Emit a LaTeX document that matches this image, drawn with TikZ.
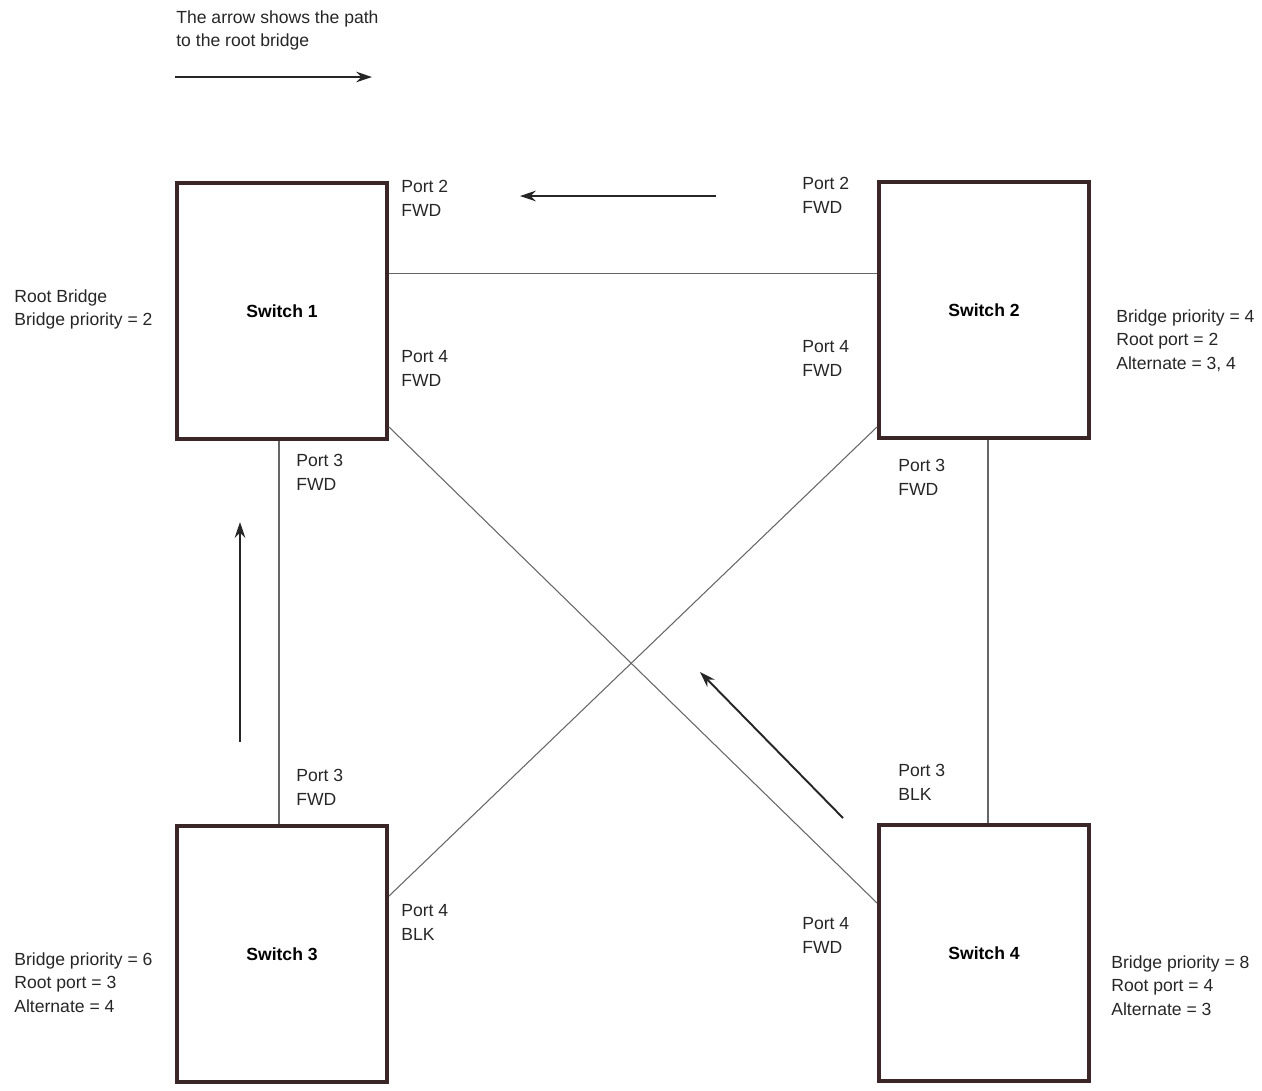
\documentclass[tikz,border=0pt]{standalone}
\usepackage{fontspec}
\setmainfont{Liberation Sans}
\usetikzlibrary{positioning}
\usetikzlibrary{arrows.meta}
\definecolor{boxbrown}{HTML}{3A2626}
\begin{document}
\begin{tikzpicture}[x=0.02cm, y=-0.02cm,
    switch/.style={draw=boxbrown, line width=2.2pt, minimum width=4.2cm, minimum height=5.12cm, font=\bfseries\fontsize{10}{12}\selectfont},
    note/.style={anchor=north west, inner sep=0pt, align=left, font=\fontsize{10}{13.6}\selectfont, text=black!85},
    link/.style={gray!80!black, line width=0.6pt},
    path/.style={-{Stealth[length=9pt, width=6pt]}, line width=1.1pt, black!85}]
  \useasboundingbox (0,0) rectangle (1262,1090);

  % Legend
  \node[note] (legend) at (176,10) {The arrow shows the path\\to the root bridge};
  \coordinate (la) at (175,77);
  \coordinate (lb) at (372,77);
  \draw[path] (la) -- (lb);

  % Switches
  \node[switch] (s1) at (282,311) {Switch 1};
  \node[switch] (s2) at (984,310) {Switch 2};
  \node[switch] (s3) at (282,954) {Switch 3};
  \node[switch] (s4) at (984,953) {Switch 4};

  % Links
  \draw[link] ([yshift=-1.84cm]s1.north east) -- ([yshift=-1.86cm]s2.north west);
  \draw[link] ([yshift=0.28cm]s1.south east) -- ([yshift=-1.6cm]s4.north west);
  \draw[link] ([yshift=-1.44cm]s3.north east) -- ([yshift=0.26cm]s2.south west);
  \draw[link] ([xshift=-0.06cm]s1.south) -- ([xshift=-0.06cm]s3.north);
  \draw[link] ([xshift=0.08cm]s2.south) -- ([xshift=0.08cm]s4.north);

  % Paths to the root bridge
  \coordinate (a1) at (716,196);
  \coordinate (b1) at (520,196);
  \draw[path] (a1) -- (b1);
  \coordinate (a2) at (240,742);
  \coordinate (b2) at (240,522);
  \draw[path] (a2) -- (b2);
  \coordinate (a3) at (843,818);
  \coordinate (b3) at (700,672);
  \draw[path] (a3) -- (b3);

  % Port states
  \node[note] (p12) at (401,180) {Port 2\\FWD};
  \node[note] (p22) at (802,177) {Port 2\\FWD};
  \node[note] (p14) at (401,350) {Port 4\\FWD};
  \node[note] (p24) at (802,340) {Port 4\\FWD};
  \node[note] (p13) at (296,454) {Port 3\\FWD};
  \node[note] (p23) at (898,459) {Port 3\\FWD};
  \node[note] (p33) at (296,769) {Port 3\\FWD};
  \node[note] (p43) at (898,764) {Port 3\\BLK};
  \node[note] (p34) at (401,904) {Port 4\\BLK};
  \node[note] (p44) at (802,917) {Port 4\\FWD};

  % Bridge info
  \node[note] (i1) at (14,289) {Root Bridge\\Bridge priority = 2};
  \node[note] (i2) at (1116,309) {Bridge priority = 4\\Root port = 2\\Alternate = 3, 4};
  \node[note] (i3) at (14,952) {Bridge priority = 6\\Root port = 3\\Alternate = 4};
  \node[note] (i4) at (1111,955) {Bridge priority = 8\\Root port = 4\\Alternate = 3};
\end{tikzpicture}
\end{document}
